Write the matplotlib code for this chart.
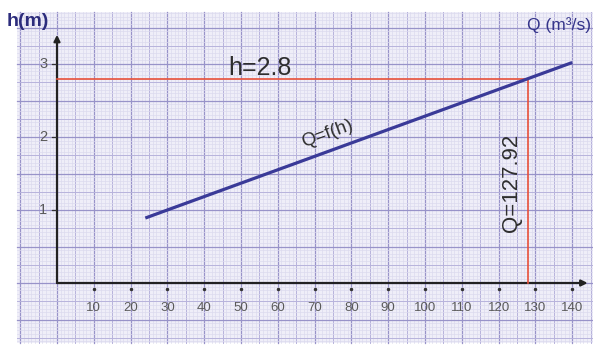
import matplotlib
matplotlib.use("Agg")
import matplotlib.pyplot as plt
import numpy as np

plt.rcParams['font.family'] = ['Liberation Sans', 'DejaVu Sans']

# ---- data ----
Q_line = [24, 140]          # Q values of the drawn line Q=f(h)
h_line = [0.89, 3.02]       # h values of the drawn line
h_target = 2.8
Q_target = 127.92
x_ticks = [10, 20, 30, 40, 50, 60, 70, 80, 90, 100, 110, 120, 130, 140]
y_ticks = [1, 2, 3]

W, H = 593, 346
fig = plt.figure(figsize=(W / 100, H / 100), dpi=100)
fig.patch.set_facecolor('white')

# ---- graph-paper background (pixel coordinates) ----
bg = fig.add_axes([0, 0, 1, 1])
bg.set_xlim(0, W)
bg.set_ylim(H, 0)
bg.axis('off')
px0, px1, py0, py1 = 17, W, 12, 343
bg.add_patch(plt.Rectangle((px0, py0), px1 - px0, py1 - py0,
                           facecolor='#efeef8', edgecolor='none', zorder=0))
sx = 3.68
sy = 3.65
ox, oy = 57, 283


def style(k):
    if k % 10 == 0:
        return '#9893c9', 0.9
    if k % 5 == 0:
        return '#b7b3dc', 0.7
    return '#dcdaee', 0.5


kx = np.arange(int((px0 - ox) / sx) - 1, int((px1 - ox) / sx) + 2)
for k in kx:
    x = ox + k * sx
    if x < px0 or x > px1:
        continue
    c, lw = style(k)
    bg.plot([x, x], [py0, py1], color=c, lw=lw, zorder=1)
ky = np.arange(int((oy - py1) / sy) - 1, int((oy - py0) / sy) + 2)
for k in ky:
    y = oy - k * sy
    if y < py0 or y > py1:
        continue
    c, lw = style(k)
    bg.plot([px0, px1], [y, y], color=c, lw=lw, zorder=1)

# ---- main data axes ----
ax = fig.add_axes([0, 0, 1, 1])
ax.patch.set_alpha(0)
ax.set_xlim(-ox / sx, (W - ox) / sx)
ax.set_ylim(-(H - oy) / 73.0, oy / 73.0)
ax.axis('off')

# axes with arrows
arrow_kw = dict(arrowstyle='-|>', lw=1.6, color='#222222', mutation_scale=9,
                shrinkA=0, shrinkB=0)
ax.annotate('', xy=(144.2, 0), xytext=(0, 0), arrowprops=arrow_kw)
ax.annotate('', xy=(0, 3.40), xytext=(0, 0), arrowprops=arrow_kw)

# red construction lines
ax.plot([0, Q_target], [h_target, h_target], color='#e8503a', lw=1.2, zorder=3)
ax.plot([Q_target, Q_target], [0, h_target], color='#e8503a', lw=1.2, zorder=3)

# blue line Q=f(h)
ax.plot(Q_line, h_line, color='#3a3a98', lw=2.3, solid_capstyle='butt', zorder=4)

# tick marks and labels
for q in x_ticks:
    ax.plot(q, -0.08, marker='o', ms=1.5, color='#333333', zorder=5)
    ax.text(q, -0.34, str(q), ha='center', va='center', fontsize=9.5, color='#5a5a5a')
for hv in y_ticks:
    ax.plot([-1.4, -0.4], [hv, hv], color='#333333', lw=0.9, zorder=5)
    ax.text(-3.7, hv, str(hv), ha='center', va='center', fontsize=10.5, color='#5a5a5a')

# annotations
ax.text(55.2, 2.95, 'h=2.8', ha='center', va='center', fontsize=18, color='#2e2e2e')
ax.text(73.5, 2.05, 'Q=f(h)', ha='center', va='center', fontsize=13.5, color='#2e2e2e',
        rotation=20, rotation_mode='anchor')
ax.text(123.6, 1.37, 'Q=127.92', ha='center', va='center', fontsize=16, color='#2e2e2e',
        rotation=90)

fig.text(28 / W, 1 - 22 / H, 'h(m)', ha='center', va='center', fontsize=14,
         fontweight='bold', color='#2c2c7c')
fig.text(591 / W, 1 - 25 / H, 'Q (m³/s)', ha='right', va='center', fontsize=12.5,
         color='#34348a')

fig.savefig('out.png', dpi=100, facecolor='white')
